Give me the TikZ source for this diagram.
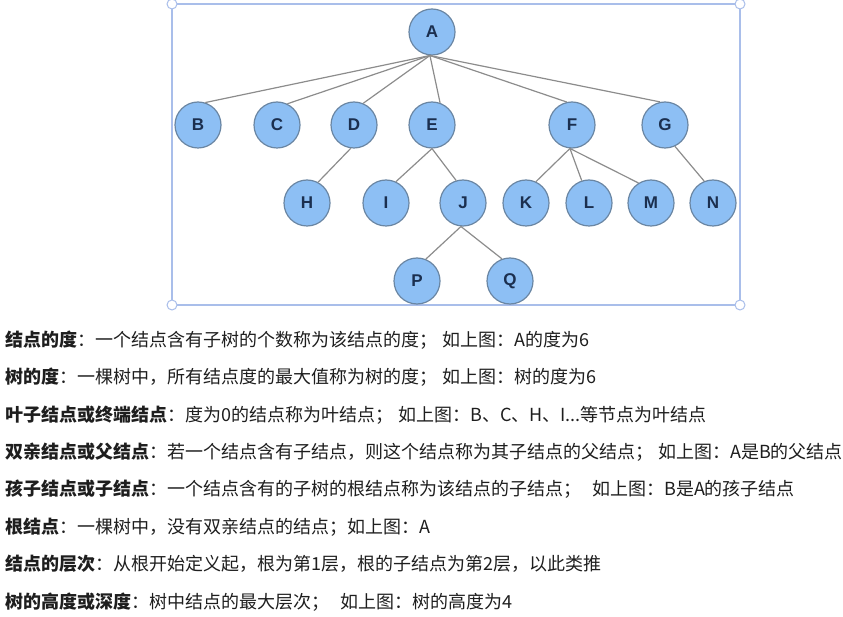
\documentclass[tikz,border=0pt]{standalone}
\usepackage{fontspec}
\setmainfont{Liberation Sans}
\newfontfamily\cjk{Noto Sans CJK SC}
\definecolor{nodefill}{HTML}{8DBFF4}
\definecolor{nodeedge}{HTML}{6A86A3}
\definecolor{nodetext}{HTML}{1B2F4F}
\definecolor{edgecol}{HTML}{8C8C8C}
\definecolor{framecol}{HTML}{A9BEEA}
\definecolor{txtcol}{HTML}{1E1E1E}
\tikzset{
  tn/.style={circle, draw=nodeedge, fill=nodefill, line width=1.2pt, minimum size=46pt, inner sep=0pt,
    font=\fontsize{17}{17}\selectfont\bfseries, text=nodetext},
  edge/.style={draw=edgecol, line width=1.2pt},
  txt/.style={anchor=base west, inner sep=0pt, font=\cjk\fontsize{18}{20}\selectfont, text=txtcol},
  handle/.style={circle, draw=framecol, fill=white, line width=1pt, minimum size=10pt, inner sep=0pt},
}
\begin{document}
\begin{tikzpicture}[x=1pt,y=-1pt]
\useasboundingbox (0,0) rectangle (843,617);
% frame
\coordinate (f1) at (172,4);
\coordinate (f2) at (740,4);
\coordinate (f3) at (740,305);
\coordinate (f4) at (172,305);
\draw[framecol, line width=1.2pt] (f1) -- (f2) -- (f3) -- (f4) -- cycle;
\foreach \c in {f1,f2,f3,f4} \node[handle] at (\c) {};
% nodes
\node[tn] (A) at (432,32) {A};
\node[tn] (B) at (198,125) {B};
\node[tn] (C) at (277,125) {C};
\node[tn] (D) at (354,125) {D};
\node[tn] (E) at (432,125) {E};
\node[tn] (F) at (572,125) {F};
\node[tn] (G) at (665,125) {G};
\node[tn] (H) at (307,203) {H};
\node[tn] (I) at (386,203) {I};
\node[tn] (J) at (463,203) {J};
\node[tn] (K) at (526,203) {K};
\node[tn] (L) at (589,203) {L};
\node[tn] (M) at (651,203) {M};
\node[tn] (N) at (713,203) {N};
\node[tn] (P) at (417,281) {P};
\node[tn] (Q) at (510,281) {Q};
% edges
\draw[edge] (A.265) -- (B.72);
\draw[edge] (A.265) -- (C.64);
\draw[edge] (A.265) -- (D.67);
\draw[edge] (A.265) -- (E.70);
\draw[edge] (A.265) -- (F.103);
\draw[edge] (A.265) -- (G.102);
\draw[edge] (D.262) -- (H.62);
\draw[edge] (E.south) -- (I.65);
\draw[edge] (E.south) -- (J.107);
\draw[edge] (F.265) -- (K.65);
\draw[edge] (F.265) -- (L.108);
\draw[edge] (F.265) -- (M.122);
\draw[edge] (G.295) -- (N.112);
\draw[edge] (J.265) -- (P.68);
\draw[edge] (J.265) -- (Q.110);
% text
\node[txt] (t1) at (5,346.3) {\textbf{结点的度}：一个结点含有子树的个数称为该结点的度；};
\node[txt] (t1b) at (442,346.3) {如上图：A的度为6};
\node[txt] (t2) at (5,383.7) {\textbf{树的度}：一棵树中，所有结点度的最大值称为树的度；};
\node[txt] (t2b) at (442,383.7) {如上图：树的度为6};
\node[txt] (t3) at (5,421.1) {\textbf{叶子结点或终端结点}：度为0的结点称为叶结点；};
\node[txt] (t3b) at (398,421.1) {如上图：B、C、H、I...等节点为叶结点};
\node[txt] (t4) at (5,458.5) {\textbf{双亲结点或父结点}：若一个结点含有子结点，则这个结点称为其子结点的父结点；};
\node[txt] (t4b) at (658,458.5) {如上图：A是B的父结点};
\node[txt] (t5) at (5,495.9) {\textbf{孩子结点或子结点}：一个结点含有的子树的根结点称为该结点的子结点；};
\node[txt] (t5b) at (592,495.9) {如上图：B是A的孩子结点};
\node[txt] (t6) at (5,533.3) {\textbf{根结点}：一棵树中，没有双亲结点的结点；如上图：A};
\node[txt] (t7) at (5,570.7) {\textbf{结点的层次}：从根开始定义起，根为第1层，根的子结点为第2层，以此类推};
\node[txt] (t8) at (5,608.1) {\textbf{树的高度或深度}：树中结点的最大层次；};
\node[txt] (t8b) at (340,608.1) {如上图：树的高度为4};
\end{tikzpicture}
\end{document}
